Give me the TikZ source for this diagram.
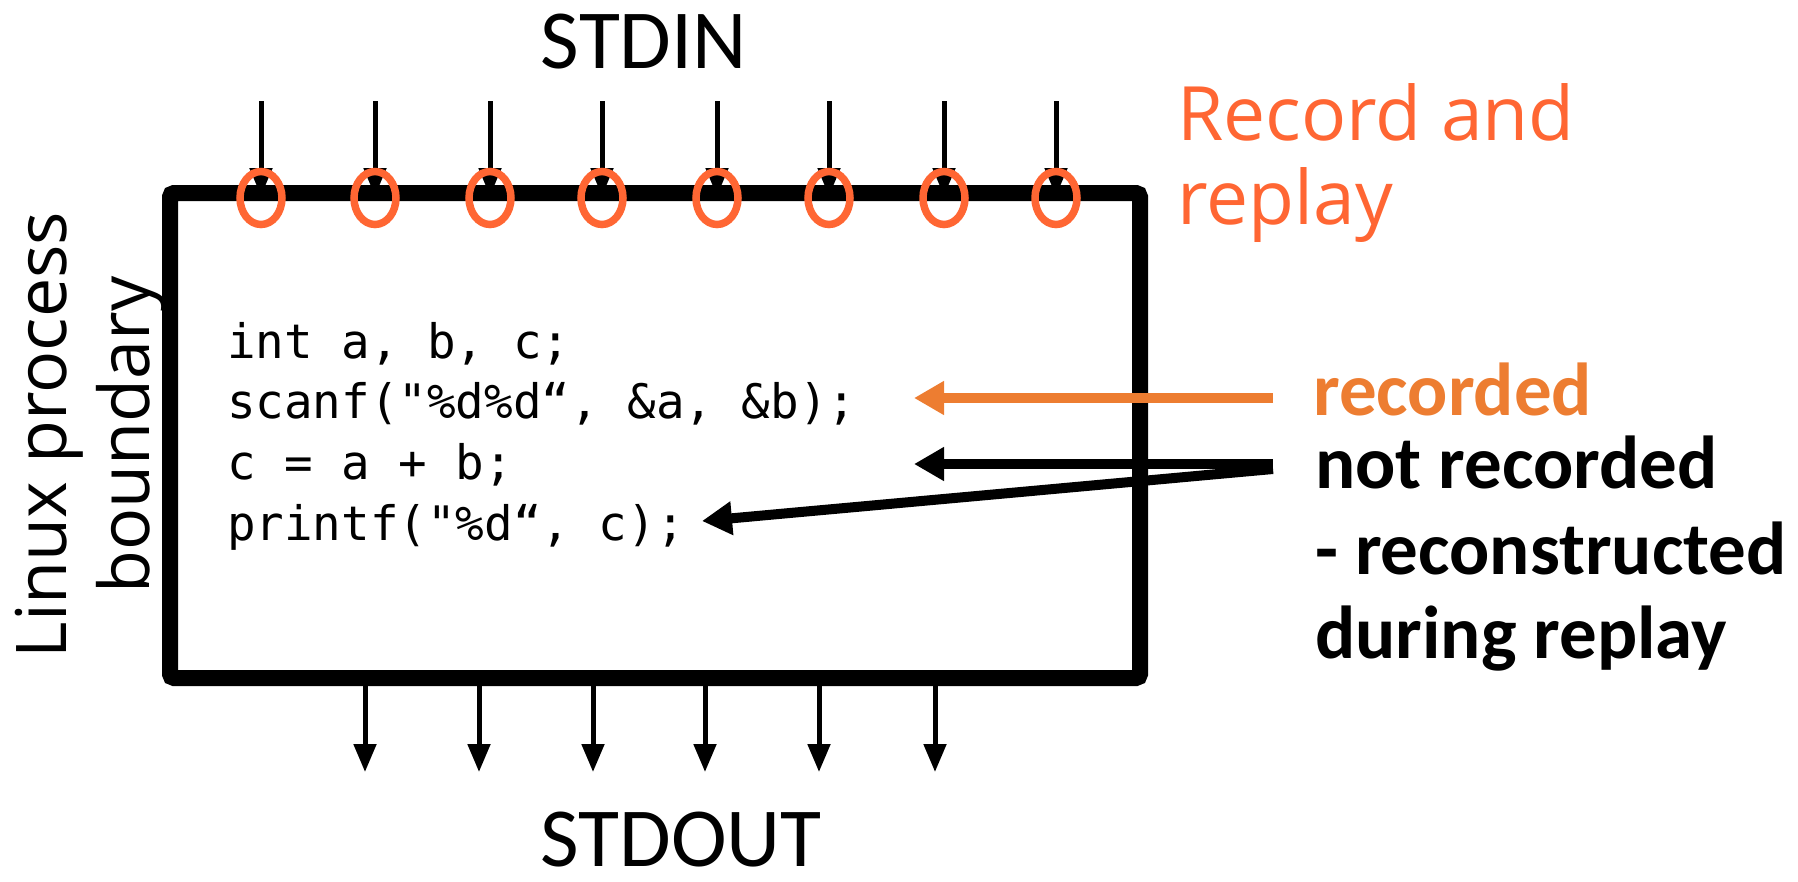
\documentclass[tikz,border=0pt]{standalone}
\usepackage{fontspec}
\setmainfont{Carlito}
\newfontfamily\osans{Open Sans}
\newfontfamily\codefont{DejaVu Sans Mono}
\usetikzlibrary{arrows.meta,shapes.geometric}
\definecolor{ringorange}{HTML}{FF6633}
\definecolor{accent}{HTML}{ED7D31}

\begin{document}
\begin{tikzpicture}[x=1pt,y=-1pt,
  flow/.style={line width=5pt,-{Triangle[width=22pt,length=28pt]}},
  pointer/.style={line width=10pt,-{Triangle[width=32pt,length=30pt]}},
  ring/.style={draw=ringorange,line width=7.5pt,ellipse,minimum width=42pt,minimum height=53pt,inner sep=0pt},
  procbox/.style={draw,line width=16pt,minimum width=970pt,minimum height=485pt,rounded corners=4pt,inner sep=0pt},
  big/.style={font=\fontsize{84}{100}\selectfont},
  thin/.style={font=\osans\fontsize{70}{84}\selectfont},
  code/.style={font=\codefont\fontsize{47.5}{56}\selectfont,anchor=base west,inner sep=0pt},
  label/.style={font=\bfseries\fontsize{75}{90}\selectfont,anchor=base west,inner sep=0pt}]
\useasboundingbox (0,0) rectangle (1798,881);

% process boundary
\node[procbox] (box) at (655,435.5) {};

% input arrows, each passing through a recording ring
\foreach \i/\x in {1/261,2/375,3/490,4/602,5/717,6/829,7/944,8/1056}{
  \coordinate (in\i) at (\x,101);
  \coordinate (hit\i) at (\x,196);
  \draw[flow] (in\i) -- (hit\i);
  \node[ring] (r\i) at (\x,198) {};
}

% output arrows
\foreach \i/\x in {1/365,2/479,3/593,4/705,5/819,6/935}{
  \coordinate (src\i) at (\x,678);
  \coordinate (out\i) at (\x,772);
  \draw[flow] (src\i) -- (out\i);
}

% stream labels
\node[big,anchor=base,inner sep=0pt] (stdin) at (644,68) {STDIN};
\node[big,anchor=base,inner sep=0pt] (stdout) at (681,866) {STDOUT};

% side captions
\node[thin,font=\osans\fontsize{75}{90}\selectfont,text=ringorange,anchor=base west,inner sep=0pt] (rec1) at (1177,140) {Record and};
\node[thin,font=\osans\fontsize{75}{90}\selectfont,text=ringorange,anchor=base west,inner sep=0pt] (rec2) at (1177,224) {replay};
\node[thin,rotate=90,anchor=base,inner sep=0pt] (lin1) at (66,435) {Linux process};
\node[thin,rotate=90,anchor=base,inner sep=0pt] (lin2) at (149,435) {boundary};

% program text
\node[code] (l1) at (227,358) {int a, b, c;};
\node[code] (l2) at (227,418) {scanf("\%d\%d“, \&a, \&b);};
\node[code] (l3) at (227,479) {c = a + b;};
\node[code] (l4) at (227,540) {printf("\%d“, c);};

% annotations
\node[label,text=accent] (recorded) at (1313,415) {recorded};
\node[label] (notrec) at (1315,488) {not recorded};
\node[label] (recon) at (1315,574) {- reconstructed};
\node[label] (during) at (1315,658) {during replay};

\coordinate (ta) at (1273,398);
\coordinate (ha) at (914,398);
\coordinate (tb) at (1273,464);
\coordinate (hb) at (914,464);
\coordinate (tc) at (1273,469);
\coordinate (hc) at (702,521);
\draw[pointer,draw=accent,fill=accent] (ta) -- (ha);
\draw[pointer] (tb) -- (hb);
\draw[pointer] (tc) -- (hc);
\end{tikzpicture}
\end{document}
